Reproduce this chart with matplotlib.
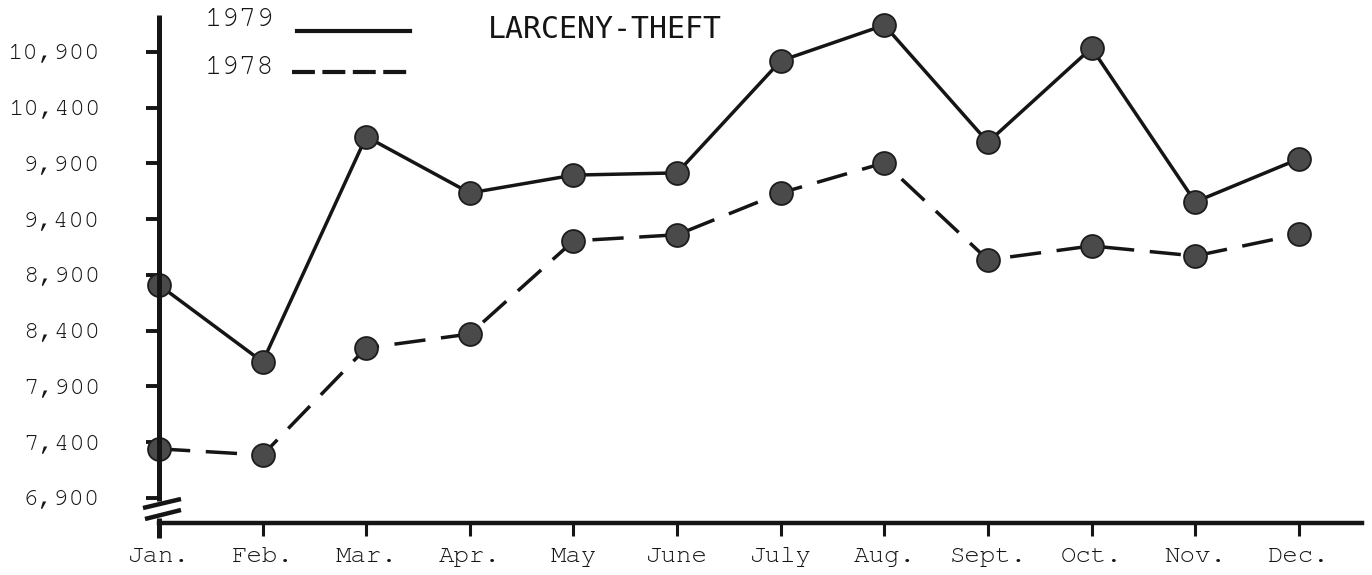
import matplotlib
matplotlib.use("Agg")
import matplotlib.pyplot as plt
from matplotlib import font_manager
from matplotlib.lines import Line2D
from matplotlib.transforms import Affine2D

# Monthly larceny-theft counts
months = ["Jan.", "Feb.", "Mar.", "Apr.", "May", "June",
          "July", "Aug.", "Sept.", "Oct.", "Nov.", "Dec."]
theft_1979 = [8810, 8120, 10140, 9635, 9795, 9815,
              10820, 11140, 10090, 10935, 9555, 9940]
theft_1978 = [7340, 7285, 8245, 8370, 9205, 9260,
              9635, 9905, 9035, 9160, 9070, 9265]
y_ticks = [6900, 7400, 7900, 8400, 8900, 9400, 9900, 10400, 10900]
y_tick_labels = ["6,900", "7,400", "7,900", "8,400", "8,900",
                 "9,400", "9,900", "10,400", "10,900"]
title = "LARCENY-THEFT"
legend_labels = ["1979", "1978"]

# Typewriter-style font, first one available
available = {f.name for f in font_manager.fontManager.ttflist}
mono = "DejaVu Sans Mono"
for cand in ["Courier New", "Courier", "Nimbus Mono PS", "Nimbus Mono L",
             "FreeMono", "Liberation Mono"]:
    if cand in available:
        mono = cand
        break

W, H = 1372, 575
fig = plt.figure(figsize=(W / 100, H / 100), dpi=100)
fig.patch.set_facecolor("white")

# pixel helper (origin at top-left of the canvas)
px = Affine2D().scale(1, -1).translate(0, H)

ink = "#151515"

ax_left, ax_right, ax_top, ax_bottom = 159, 1362, 15, 523
ax = fig.add_axes([ax_left / W, 1 - ax_bottom / H,
                   (ax_right - ax_left) / W, (ax_bottom - ax_top) / H])
ax.set_facecolor("none")
ax.set_xlim(0, 11.61)
ax.set_ylim(6675, 11231)

x = list(range(len(months)))

ax.plot(x, theft_1979, color=ink, lw=2.5, solid_capstyle="round",
        zorder=3, clip_on=False)
ax.plot(x, theft_1978, color=ink, lw=2.5, dashes=(9, 4.5),
        zorder=3, clip_on=False)
for series in (theft_1979, theft_1978):
    ax.plot(x, series, ls="none", marker="o", ms=16.5,
            mfc="#4a4a4a", mec="#1c1c1c", mew=1.3, zorder=4, clip_on=False)

# axes frame: only the bottom spine, the left axis is drawn with a break
for side in ("top", "right", "left"):
    ax.spines[side].set_visible(False)
ax.spines["bottom"].set_linewidth(3.2)
ax.spines["bottom"].set_color(ink)

ax.set_yticks(y_ticks)
ax.set_yticklabels(y_tick_labels, fontfamily=mono, fontsize=18.5, color=ink)
ax.tick_params(axis="y", direction="out", length=9.4, width=2.8,
               color=ink, pad=33)

ax.set_xticks(x)
ax.set_xticklabels(months, fontfamily=mono, fontsize=18.5, color=ink)
ax.tick_params(axis="x", direction="out", length=9.4, width=2.2,
               color=ink, pad=8)

# vertical axis with a scale break near the bottom
for y0, y1 in ((ax_top, 501), (518, 538)):
    fig.add_artist(Line2D([ax_left, ax_left], [y0, y1], transform=px,
                          color=ink, lw=3.6, solid_capstyle="butt"))
for (x0, y0), (x1, y1) in (((143, 508), (181, 499)),
                           ((145, 519), (181, 510))):
    fig.add_artist(Line2D([x0, x1], [y0, y1], transform=px,
                          color=ink, lw=3.2, solid_capstyle="butt"))

# legend keys
fig.text(205, 20, legend_labels[0], transform=px, fontfamily=mono,
         fontsize=21, color=ink, va="center", ha="left")
fig.text(205, 68, legend_labels[1], transform=px, fontfamily=mono,
         fontsize=21, color=ink, va="center", ha="left")
fig.add_artist(Line2D([297, 410], [31, 31], transform=px, color=ink, lw=3.0))
fig.add_artist(Line2D([292, 408], [72, 72], transform=px, color=ink, lw=3.0,
                      dashes=(5.5, 1.8)))

fig.text(488, 29, title, transform=px, fontfamily="DejaVu Sans Mono",
         fontsize=21.5, color=ink, va="center", ha="left")

fig.savefig("out.png", dpi=100, facecolor="white")
